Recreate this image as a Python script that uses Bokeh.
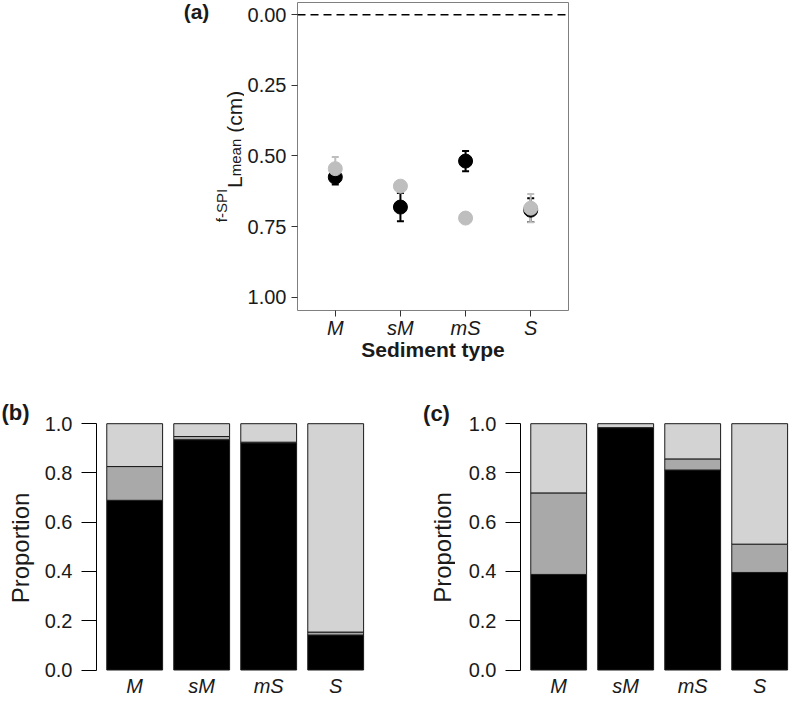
import math
from bokeh.plotting import figure
from bokeh.models import (Range1d, FixedTicker, NumeralTickFormatter, Span, Whisker,
                          TeeHead, ColumnDataSource, Label)
from bokeh.layouts import column, row
from bokeh.embed import file_html
from bokeh.resources import INLINE

FONT = "Liberation Sans"

# ---------------- data ----------------
sediment = ["M", "sM", "mS", "S"]
# panel (a): mean penetration depth (cm) and its standard error
lmean_black = [0.575, 0.681, 0.518, 0.692]
se_black = [0.026, 0.050, 0.036, 0.042]
lmean_grey = [0.545, 0.607, 0.720, 0.685]
se_grey = [0.041, 0.015, 0.010, 0.050]
y_ticks_a = [0.0, 0.25, 0.5, 0.75, 1.0]

# panel (b) proportions (black, dark grey, light grey)
prop_b_black = [0.689, 0.935, 0.922, 0.142]
prop_b_mid = [0.137, 0.013, 0.003, 0.012]
prop_b_light = [0.174, 0.052, 0.075, 0.846]
# panel (c)
prop_c_black = [0.388, 0.984, 0.812, 0.396]
prop_c_mid = [0.331, 0.000, 0.045, 0.115]
prop_c_light = [0.281, 0.016, 0.143, 0.489]
y_ticks_bc = [0.0, 0.2, 0.4, 0.6, 0.8, 1.0]

TXT = "#1a1a1a"
xa = [i + 1 for i in range(len(sediment))]
labels_map = {x: s for x, s in zip(xa, sediment)}


def text_fig(w, h, top, bottom):
    """Blank figure; its frame is aligned with the neighbour's frame (rows align
    frames), and data units equal canvas pixels."""
    f = figure(width=w, height=h, x_range=Range1d(0, w),
               y_range=Range1d(h - bottom, top),
               output_backend="svg", toolbar_location=None, min_border_left=0,
               min_border_right=0, min_border_top=top, min_border_bottom=bottom,
               x_axis_location=None, y_axis_location=None)
    f.outline_line_color = None
    f.xgrid.visible = False
    f.ygrid.visible = False
    return f


def lab(f, x, y, text, size, bold=False, angle=0.0, align="center", baseline="middle"):
    f.add_layout(Label(x=x, y=y, text=text, angle=angle, text_font=FONT,
                       text_font_size=f"{size}px",
                       text_font_style="bold" if bold else "normal",
                       text_color=TXT, text_align=align, text_baseline=baseline))


# ---------------- panel (a) ----------------
TOP_H = 375
LA_W = 244
A_L, A_T, A_FW, A_FH = 52, 2, 272, 308
A_R = 789 - LA_W - A_L - A_FW
A_B = TOP_H - A_T - A_FH
AX0, AX1 = 0.42, 4.58
AY_TOP, AY_BOT = -0.0436, 1.0474

la = text_fig(LA_W, TOP_H, A_T, A_B)
lab(la, 196, 10.5, "(a)", 21, bold=True)
# composite y-axis label: ^{f-SPI}L_{mean} (cm), reading bottom to top
MAIN, SUB = 21, 15
pieces = [("f-SPI", SUB, 220.5, 2.223 * SUB + 1),
          ("L", MAIN, 234.0, 0.556 * MAIN),
          ("mean", SUB, 235.0, 2.5 * SUB + 6),
          ("(cm)", MAIN, 234.0, 2.0 * MAIN)]
total = sum(p[3] for p in pieces)
ystart = 156 + total / 2
for txt, fs, bx, adv in pieces:
    lab(la, bx, ystart, txt, fs, angle=math.pi / 2, align="left", baseline="alphabetic")
    ystart -= adv

fa = figure(width=789 - LA_W, height=TOP_H, x_range=Range1d(AX0, AX1),
            y_range=Range1d(AY_BOT, AY_TOP), output_backend="svg",
            toolbar_location=None, min_border_left=A_L, min_border_right=A_R,
            min_border_top=A_T, min_border_bottom=A_B)
fa.xgrid.visible = False
fa.ygrid.visible = False
fa.outline_line_color = "#7f7f7f"
fa.outline_line_width = 1

fa.add_layout(Span(location=0, dimension="width", line_color="black",
                   line_dash="8 5", line_width=1.5))

src_black = ColumnDataSource(dict(x=xa, y=lmean_black,
                                  lo=[m - s for m, s in zip(lmean_black, se_black)],
                                  hi=[m + s for m, s in zip(lmean_black, se_black)]))
src_grey = ColumnDataSource(dict(x=xa, y=lmean_grey,
                                 lo=[m - s for m, s in zip(lmean_grey, se_grey)],
                                 hi=[m + s for m, s in zip(lmean_grey, se_grey)]))

for src, col in ((src_black, "black"), (src_grey, "#bebebe")):
    fa.add_layout(Whisker(base="x", upper="hi", lower="lo", source=src,
                          dimension="height", line_color=col, line_width=2,
                          level="underlay",
                          upper_head=TeeHead(size=7, line_color=col, line_width=2),
                          lower_head=TeeHead(size=7, line_color=col, line_width=2)))
fa.scatter(x="x", y="y", source=src_black, size=14, fill_color="black",
           line_color="black")
fa.scatter(x="x", y="y", source=src_grey, size=14, fill_color="#bebebe",
           line_color="#bebebe")

fa.xaxis.ticker = FixedTicker(ticks=xa)
fa.xaxis.major_label_overrides = labels_map
fa.yaxis.ticker = FixedTicker(ticks=y_ticks_a)
fa.yaxis.formatter = NumeralTickFormatter(format="0.00")
for ax in (fa.xaxis[0], fa.yaxis[0]):
    ax.axis_line_color = None
    ax.major_tick_line_color = "#333333"
    ax.major_tick_out = 6
    ax.major_tick_in = 0
    ax.minor_tick_line_color = None
    ax.major_label_text_font = FONT
    ax.major_label_text_font_size = "20px"
    ax.major_label_text_color = TXT
fa.xaxis.major_label_text_font_style = "italic"
fa.xaxis.major_label_standoff = 0
fa.yaxis.major_label_standoff = 5
fa.xaxis.axis_label = "Sediment type"
fa.xaxis.axis_label_text_font = FONT
fa.xaxis.axis_label_text_font_style = "bold"
fa.xaxis.axis_label_text_font_size = "21px"
fa.xaxis.axis_label_text_color = TXT
fa.xaxis.axis_label_standoff = -4

# ---------------- panels (b) and (c) ----------------
BOT_H = 702 - TOP_H
B_T, B_B = 20, 31
B_FH = BOT_H - B_T - B_B
ZERO_PX, UNIT_PX = 294.5, 246.3      # canvas y of proportion 0, pixels per 1.0
BX0 = 0.43
PX_PER_UNIT = 67.0


def bar_panel(width, left, right, black, mid, light):
    fw = width - left - right
    x_end = BX0 + fw / PX_PER_UNIT
    y_end = (ZERO_PX - B_T) / UNIT_PX
    y_start = -((BOT_H - B_B) - ZERO_PX) / UNIT_PX
    f = figure(width=width, height=BOT_H, x_range=Range1d(BX0, x_end),
               y_range=Range1d(y_start, y_end), output_backend="svg",
               toolbar_location=None,
               min_border_left=left, min_border_right=right,
               min_border_top=B_T, min_border_bottom=B_B)
    f.xgrid.visible = False
    f.ygrid.visible = False
    f.outline_line_color = None
    src = ColumnDataSource(dict(x=xa, black=black, mid=mid, light=light))
    f.vbar_stack(["black", "mid", "light"], x="x", width=1 / 1.2, source=src,
                 fill_color=["black", "#a9a9a9", "#d3d3d3"],
                 line_color="#1a1a1a", line_width=1)
    f.xaxis.ticker = FixedTicker(ticks=xa)
    f.xaxis.major_label_overrides = labels_map
    f.xaxis.axis_line_color = None
    f.xaxis.major_tick_line_color = None
    f.xaxis.major_tick_out = 0
    f.xaxis.major_tick_in = 0
    f.xaxis.minor_tick_line_color = None
    f.xaxis.major_label_standoff = 3
    f.xaxis.major_label_text_font_style = "italic"
    f.yaxis.ticker = FixedTicker(ticks=y_ticks_bc)
    f.yaxis.formatter = NumeralTickFormatter(format="0.0")
    f.yaxis.bounds = (0, 1)
    f.yaxis.axis_line_color = "black"
    f.yaxis.major_tick_line_color = "black"
    f.yaxis.major_tick_out = 15
    f.yaxis.major_tick_in = 0
    f.yaxis.minor_tick_line_color = None
    f.yaxis.major_label_standoff = 9
    for ax in (f.xaxis[0], f.yaxis[0]):
        ax.major_label_text_font = FONT
        ax.major_label_text_font_size = "20px"
        ax.major_label_text_color = TXT
    return f


LB_W, FB_W, LC_W = 36, 364, 55
FC_W = 789 - LB_W - FB_W - LC_W

lb = text_fig(LB_W, BOT_H, B_T, B_B)
lab(lb, 15, 36.5, "(b)", 22, bold=True)
lab(lb, 19.5, 172.5, "Proportion", 24, angle=math.pi / 2, baseline="alphabetic")
fb = bar_panel(FB_W, 60, 27, prop_b_black, prop_b_mid, prop_b_light)

lc = text_fig(LC_W, BOT_H, B_T, B_B)
lab(lc, 36, 38, "(c)", 22, bold=True)
lab(lc, 42, 172, "Proportion", 24, angle=math.pi / 2, baseline="alphabetic")
fc = bar_panel(FC_W, 65, 0, prop_c_black, prop_c_mid, prop_c_light)

layout = column(row(la, fa, spacing=0), row(lb, fb, lc, fc, spacing=0), spacing=0)
open("out.html", "w").write(file_html(layout, INLINE))
